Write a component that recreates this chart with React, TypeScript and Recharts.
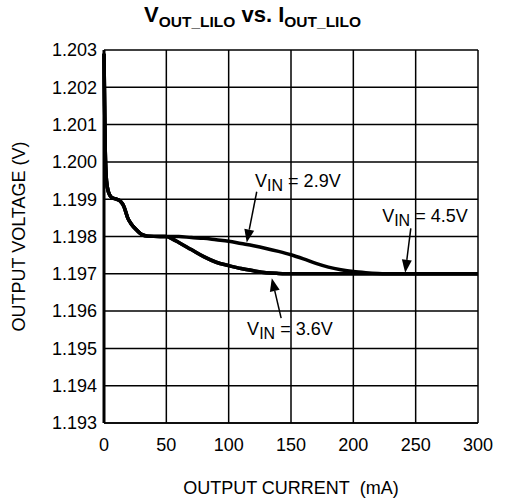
import React from 'react';
import {
    LineChart,
    Line,
    XAxis,
    YAxis,
    CartesianGrid,
    ReferenceLine,
    ReferenceDot
} from 'recharts';

// shared start of all three curves (mA / V)
const commonI = [0, 0.5, 1, 2, 3.5, 6, 10, 13, 16, 19, 22, 26, 30, 35, 45, 50];
const commonV = [1.2029, 1.2015, 1.2003, 1.1995, 1.1992, 1.19905, 1.199, 1.19895, 1.1988, 1.1985, 1.19833, 1.19818, 1.19806, 1.19801, 1.198, 1.198];

const i29 = [60, 70, 80, 90, 100, 110, 120, 130, 140, 150, 160, 170, 180, 190, 200, 210, 220, 230, 300];
const v29 = [1.198, 1.19797, 1.19795, 1.19791, 1.19787, 1.19781, 1.19775, 1.19768, 1.1976, 1.19751, 1.1974, 1.19728, 1.19718, 1.19711, 1.19706, 1.19703, 1.19701, 1.197, 1.197];

const i36 = [55, 60, 70, 80, 90, 100, 110, 120, 130, 140, 150, 300];
const v36 = [1.19793, 1.19784, 1.19765, 1.19746, 1.19731, 1.19722, 1.19714, 1.19708, 1.19703, 1.19701, 1.197, 1.197];

const i45 = [55, 60, 70, 80, 90, 100, 110, 120, 130, 140, 150, 300];
const v45 = [1.19793, 1.19784, 1.19765, 1.19746, 1.19731, 1.19722, 1.19714, 1.19708, 1.19703, 1.19701, 1.197, 1.197];

const xTicks = [0, 50, 100, 150, 200, 250, 300];
const yTicks = [1.193, 1.194, 1.195, 1.196, 1.197, 1.198, 1.199, 1.2, 1.201, 1.202, 1.203];

const labels = ['2.9V', '3.6V', '4.5V'];

const toSeries = (xs: number[], ys: number[]) =>
    commonI.map((x, k) => ({ x, v: commonV[k] })).concat(xs.map((x, k) => ({ x, v: ys[k] })));

const series = [toSeries(i29, v29), toSeries(i36, v36), toSeries(i45, v45)];

// annotation text anchors and arrows, in data units
const notes = [
    { text: labels[0], x: 121.2, y: 1.19933, from: { x: 122.5, y: 1.1992 }, to: { x: 114.5, y: 1.19784 } },
    { text: labels[1], x: 114.8, y: 1.19536, from: { x: 142.1, y: 1.19581 }, to: { x: 134.6, y: 1.19688 } },
    { text: labels[2], x: 223.1, y: 1.19839, from: { x: 246.1, y: 1.19822 }, to: { x: 241.6, y: 1.19703 } }
];

const FONT = '"Liberation Sans", Arial, sans-serif';

const Arrow = (p: any) => {
    const { x1, y1, x2, y2 } = p;
    const a = Math.atan2(y2 - y1, x2 - x1);
    const len = 13;
    const hw = 5;
    const bx = x2 - len * Math.cos(a);
    const by = y2 - len * Math.sin(a);
    const nx = -Math.sin(a) * hw;
    const ny = Math.cos(a) * hw;
    return (
        <g>
            <line x1={x1} y1={y1} x2={bx} y2={by} stroke="#000" strokeWidth={1.5} />
            <polygon points={`${x2},${y2} ${bx + nx},${by + ny} ${bx - nx},${by - ny}`} fill="#000" />
        </g>
    );
};

const noteShape = (text: string) => (p: any) => (
    <text x={p.cx} y={p.cy} fontFamily={FONT} fontSize={18} fill="#000">
        V<tspan fontSize={16} dy={4}>IN</tspan>
        <tspan dy={-4}>{` = ${text}`}</tspan>
    </text>
);

export default function App() {
    return (
        <div style={{ position: 'absolute', left: 0, top: 0, width: 510, height: 499, background: '#fff' }}>
            <div
                style={{
                    position: 'absolute',
                    left: 0,
                    top: 2,
                    width: 505,
                    textAlign: 'center',
                    fontFamily: FONT,
                    fontWeight: 'bold',
                    fontSize: 22,
                    color: '#000',
                    whiteSpace: 'nowrap'
                }}
            >
                V<span style={{ fontSize: 15.5, position: 'relative', top: 5 }}>OUT_LILO</span> vs. I
                <span style={{ fontSize: 15.5, position: 'relative', top: 5 }}>OUT_LILO</span>
            </div>
            <LineChart
                width={510}
                height={499}
                margin={{ top: 50, right: 32, bottom: 0, left: 0 }}
                style={{ fontFamily: FONT }}
            >
                <CartesianGrid stroke="#000" strokeWidth={1.5} horizontalValues={yTicks} verticalValues={xTicks} />
                <XAxis
                    type="number"
                    dataKey="x"
                    domain={[0, 300]}
                    ticks={xTicks}
                    height={76}
                    tickSize={0}
                    tickMargin={15}
                    tick={{ fill: '#000', fontSize: 18 }}
                    axisLine={{ stroke: '#000', strokeWidth: 1.5 }}
                    label={{ value: 'OUTPUT CURRENT\u00A0\u00A0(mA)', position: 'insideBottom', offset: 5, fill: '#000', fontSize: 18 }}
                />
                <YAxis
                    type="number"
                    domain={[1.193, 1.203]}
                    ticks={yTicks}
                    width={104}
                    tickSize={0}
                    tickMargin={7}
                    tick={{ fill: '#000', fontSize: 18 }}
                    tickFormatter={(v: number) => v.toFixed(3)}
                    axisLine={{ stroke: '#000', strokeWidth: 3 }}
                    label={{ value: 'OUTPUT VOLTAGE (V)', angle: -90, position: 'insideLeft', offset: 19, fill: '#000', fontSize: 18, style: { textAnchor: 'middle' } }}
                />
                {series.map((d, k) => (
                    <Line
                        key={labels[k]}
                        data={d}
                        dataKey="v"
                        type="monotone"
                        stroke="#000"
                        strokeWidth={3.5}
                        dot={false}
                        activeDot={false}
                        isAnimationActive={false}
                    />
                ))}
                {notes.map(n => (
                    <ReferenceLine key={'a' + n.text} segment={[n.from, n.to]} shape={Arrow} ifOverflow="visible" />
                ))}
                {notes.map(n => (
                    <ReferenceDot key={'t' + n.text} x={n.x} y={n.y} r={0} shape={noteShape(n.text)} ifOverflow="visible" />
                ))}
            </LineChart>
        </div>
    );
}
